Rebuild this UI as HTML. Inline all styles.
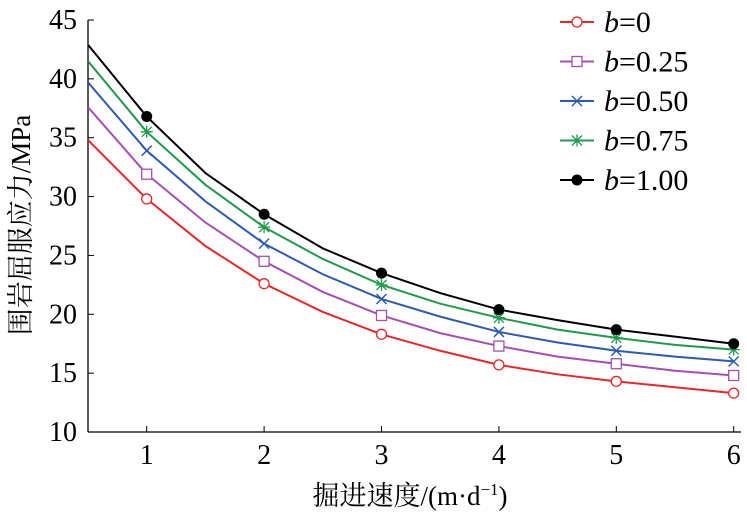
<!DOCTYPE html>
<html><head><meta charset="utf-8"><style>
body{margin:0;background:#fff;}
svg,svg text,svg tspan{font-family:"Times New Roman","Liberation Serif","Noto Serif CJK SC",serif !important;}
</style></head><body>
<svg id="c" width="747" height="518"></svg>
<script>
const xs=[0.5,1,1.5,2,2.5,3,3.5,4,4.5,5,5.5,6];
const s0=[34.8,29.8,25.8,22.6,20.2,18.3,16.9,15.7,14.9,14.3,13.8,13.3];
const s25=[37.6,31.9,27.8,24.5,21.9,19.9,18.4,17.3,16.4,15.8,15.2,14.8];
const s50=[39.7,33.9,29.6,26.0,23.4,21.3,19.8,18.5,17.6,16.9,16.4,16.0];
const s75=[41.5,35.5,31.0,27.4,24.7,22.5,20.9,19.7,18.7,18.0,17.4,17.0];
const s100=[42.9,36.8,32.0,28.5,25.6,23.5,21.8,20.4,19.5,18.7,18.1,17.5];
const seriesNames=["b=0","b=0.25","b=0.50","b=0.75","b=1.00"];
const xTicks=[1,2,3,4,5,6];
const yTicks=[10,15,20,25,30,35,40,45];
const svg=document.getElementById('c');
const NS='http://www.w3.org/2000/svg';
const X=v=>88+(v-0.5)*117.4;
const Y=v=>432-(v-10)*(412/35);
function mk(t,a,p){const e=document.createElementNS(NS,t);for(const k in a)e.setAttribute(k,a[k]);(p||svg).appendChild(e);return e;}
const ax=mk('g',{});


mk('line',{x1:88,y1:20,x2:88,y2:432,stroke:'#000','stroke-width':1.3},ax);
mk('line',{x1:88,y1:432,x2:741,y2:432,stroke:'#000','stroke-width':1.3},ax);
yTicks.forEach(v=>{mk('line',{x1:88,x2:94,y1:Y(v),y2:Y(v),stroke:'#000'},ax);
 const t=mk('text',{x:77,y:Y(v)+9,'text-anchor':'end','font-size':28},ax);t.textContent=v;
 });
xTicks.forEach(v=>{mk('line',{x1:X(v),x2:X(v),y1:432,y2:426,stroke:'#000'},ax);
 const t=mk('text',{x:X(v),y:464,'text-anchor':'middle','font-size':28},ax);t.textContent=v;
 });
const xt=mk('text',{x:410,y:505,'text-anchor':'middle','font-size':27});
xt.innerHTML='掘进速度/(m·d<tspan dy="-10" font-size="17">−1</tspan><tspan dy="10">)</tspan>';

const yt=mk('text',{x:0,y:0,'text-anchor':'middle','font-size':27,transform:'translate(30,225) rotate(-90)'});
yt.textContent='围岩屈服应力/MPa';

const data=[s0,s25,s50,s75,s100];
const cols=['#e8262a','#a44fb0','#2d5bb0','#1f9a4b','#000'];
function marker(i,x,y,g){const c=cols[i];
 if(i==0)mk('circle',{cx:x,cy:y,r:5,fill:'#fff',stroke:c,'stroke-width':1.3},g);
 else if(i==1)mk('rect',{x:x-5,y:y-5,width:10,height:10,fill:'#fff',stroke:c,'stroke-width':1.3},g);
 else if(i==2){mk('path',{d:`M${x-5} ${y-5}L${x+5} ${y+5}M${x-5} ${y+5}L${x+5} ${y-5}`,stroke:c,'stroke-width':1.5},g);}
 else if(i==3){mk('path',{d:`M${x-5} ${y-5}L${x+5} ${y+5}M${x-5} ${y+5}L${x+5} ${y-5}M${x} ${y-6}L${x} ${y+6}M${x-6} ${y}L${x+6} ${y}`,stroke:c,'stroke-width':1.3},g);}
 else mk('circle',{cx:x,cy:y,r:5.5,fill:c},g);}
data.forEach((s,i)=>{const g=mk('g',{});
 
 
 mk('polyline',{points:s.map((v,j)=>X(xs[j])+','+Y(v)).join(' '),fill:'none',stroke:cols[i],'stroke-width':2},g);
 s.forEach((v,j)=>{if(Number.isInteger(xs[j]))marker(i,X(xs[j]),Y(v),g);});
 const ly=22+i*39.5;
 const lg=mk('g',{});
 
 mk('line',{x1:560,x2:594,y1:ly,y2:ly,stroke:cols[i],'stroke-width':2},lg);
 marker(i,577,ly,lg);
 const t=mk('text',{x:604,y:ly+10,'font-size':30},lg);
 t.innerHTML='<tspan font-style="italic">b</tspan>='+seriesNames[i].slice(2);
});
</script>
</body></html>
